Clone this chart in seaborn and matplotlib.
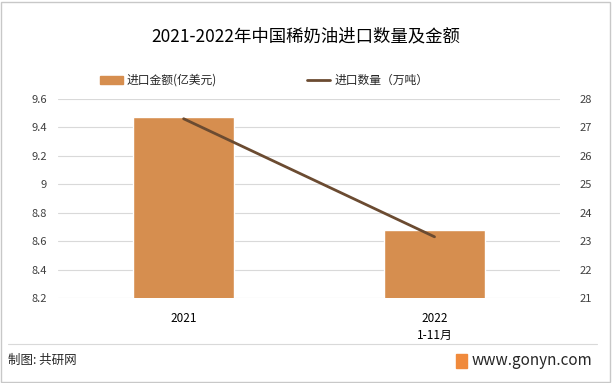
import seaborn as sns
import matplotlib.pyplot as plt
from matplotlib.patches import Patch, Rectangle
from matplotlib.lines import Line2D

# data
years = ['2021', '2022\n1-11月']
amount = [9.47, 8.68]      # 进口金额 (亿美元)
volume = [27.3, 23.15]     # 进口数量 (万吨)

bar_color = '#D68E4F'
line_color = '#6B4B31'

sns.set_style('white')
plt.rcParams['font.family'] = ['Noto Sans CJK SC', 'DejaVu Sans']

fig = plt.figure(figsize=(6.12, 3.83), dpi=100)
ax = fig.add_axes([0.095, 0.222, 0.82, 0.52])

sns.barplot(x=years, y=amount, color=bar_color, width=0.4, saturation=1, ax=ax)
ax.set_ylim(8.2, 9.6)
ax.set_yticks([8.2, 8.4, 8.6, 8.8, 9.0, 9.2, 9.4, 9.6])
ax.set_yticklabels(['8.2', '8.4', '8.6', '8.8', '9', '9.2', '9.4', '9.6'])
ax.set_xlim(-0.5, 1.5)
ax.grid(axis='y', color='#D9D9D9', linewidth=0.8)
ax.set_axisbelow(True)
for s in ax.spines.values():
    s.set_visible(False)
ax.tick_params(axis='y', length=0, labelsize=8, colors='#404040', pad=8)
ax.tick_params(axis='x', length=0, labelsize=8.5, colors='black', pad=10)
for t in ax.get_xticklabels():
    t.set_linespacing(1.45)
    t.set_va('top')
ax.set_xlabel('')
ax.set_ylabel('')

ax2 = ax.twinx()
sns.lineplot(x=[0, 1], y=volume, color=line_color, linewidth=2, ax=ax2)
ax2.set_ylim(21, 28)
ax2.set_yticks(range(21, 29))
for s in ax2.spines.values():
    s.set_visible(False)
ax2.tick_params(axis='y', length=0, labelsize=8, colors='#404040', pad=14)
ax2.set_xlim(-0.5, 1.5)

fig.text(0.5, 0.905, '2021-2022年中国稀奶油进口数量及金额', ha='center', va='center',
         fontsize=12.5, color='black')

handles = [Patch(color=bar_color), Line2D([0], [0], color=line_color, lw=2)]
fig.legend(handles, ['进口金额(亿美元)', '进口数量（万吨）'], loc='center left',
           bbox_to_anchor=(0.163, 0.79), ncol=2, frameon=False, fontsize=8.5,
           handlelength=2.0, handleheight=0.6, columnspacing=7.6, handletextpad=0.3,
           borderpad=0, borderaxespad=0)

# footer
fig.add_artist(Line2D([0.013, 0.975], [0.102, 0.102], color='#D9D9D9', lw=0.8))
fig.text(0.013, 0.058, '制图: 共研网', ha='left', va='center', fontsize=9)
fig.text(0.968, 0.058, 'www.gonyn.com', ha='right', va='center', fontsize=11)
fig.add_artist(Rectangle((0.745, 0.04), 0.018, 0.036, color='#F08A3C'))

# outer border
fig.add_artist(Rectangle((0.002, 0.003), 0.995, 0.993, fill=False,
                         edgecolor='#C8C8C8', lw=1))

fig.savefig('out.png', dpi=100)
